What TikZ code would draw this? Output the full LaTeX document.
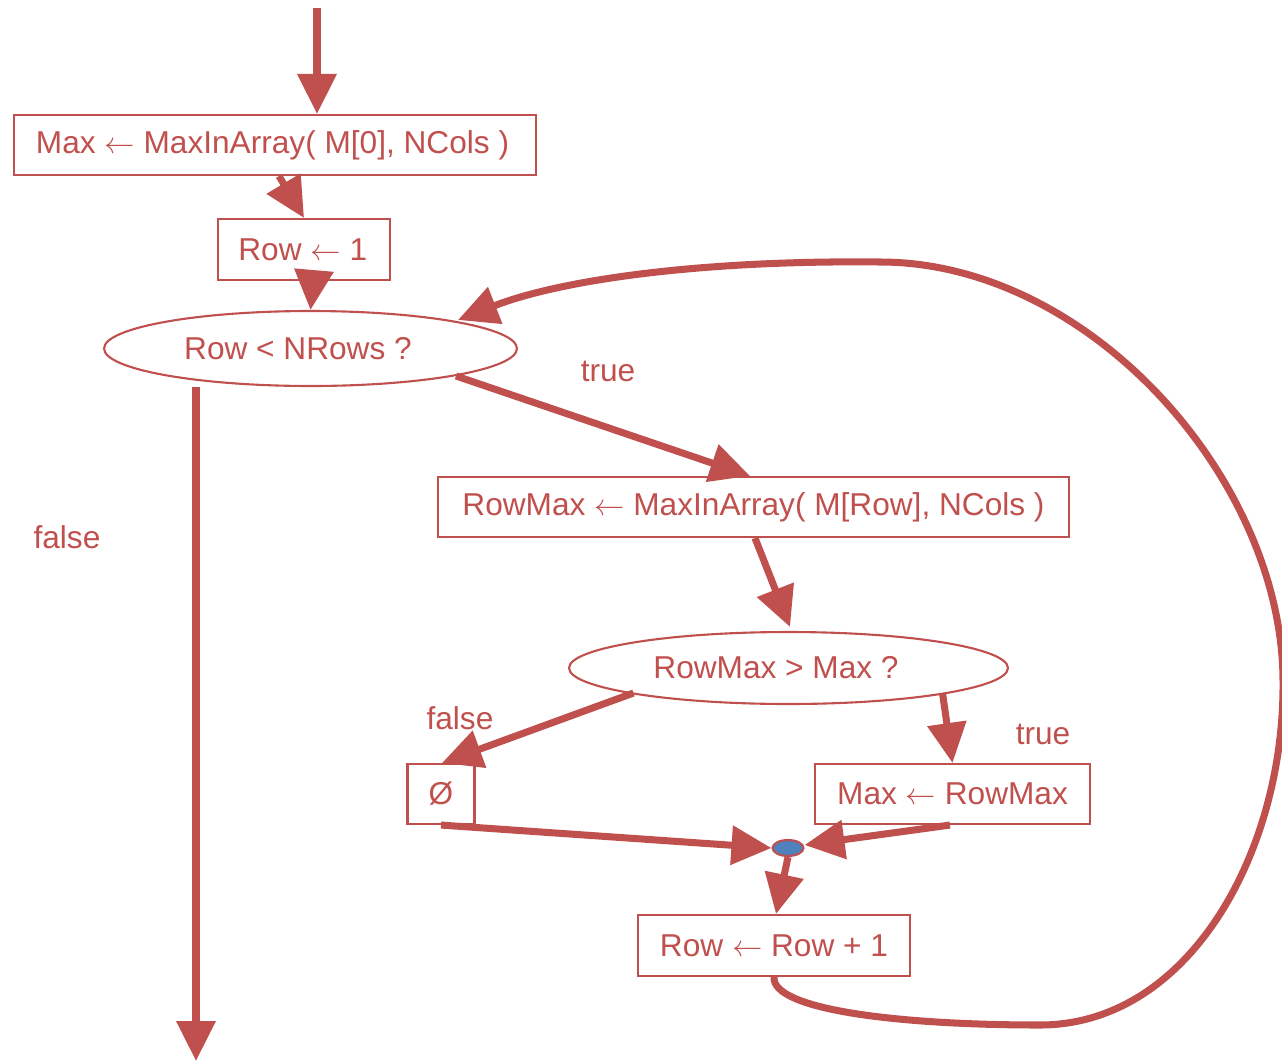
\documentclass[tikz,border=0pt]{standalone}
\usepackage{fontspec}
\setmainfont{Liberation Sans}
\usetikzlibrary{arrows.meta,shapes.geometric}
\definecolor{cred}{HTML}{C0504D}
\definecolor{cblue}{HTML}{4F81BD}
\tikzset{
  box/.style={draw=cred,line width=1.2pt,text=cred,inner sep=0pt,minimum height=1.2cm,font=\fontsize{18}{21}\selectfont},
  oval/.style={ellipse,draw=cred,line width=1.2pt,text=cred,inner sep=0pt,font=\fontsize{18}{21}\selectfont},
  lbl/.style={text=cred,font=\fontsize{18}{21}\selectfont},
  arr/.style={draw=cred,line width=4pt,-{Triangle[length=0.8cm,width=0.76cm]}},
}
\newcommand{\padr}[1]{\hspace*{#1}\mbox{}}
\begin{document}
\begin{tikzpicture}[x=0.02cm,y=-0.02cm]
\useasboundingbox (0,0) rectangle (1282,1062);
% nodes
\node[box,minimum width=10.44cm] (b1) at (275,145) {Max $\leftarrow$ MaxInArray( M[0], NCols )\padr{0.1cm}};
\node[box,minimum width=3.44cm,minimum height=1.22cm] (b2) at (304,249.5) {Row $\leftarrow$ 1\padr{0.05cm}};
\node[oval,minimum width=8.26cm,minimum height=1.5cm] (e1) at (310.5,348.5) {Row < NRows ?\padr{0.5cm}};
\node[box,minimum width=12.62cm] (b3) at (753.5,507) {RowMax $\leftarrow$ MaxInArray( M[Row], NCols )};
\node[oval,minimum width=8.78cm,minimum height=1.44cm] (e2) at (788.5,668) {RowMax > Max ?\padr{0.5cm}};
\node[box,minimum width=1.34cm] (b4) at (441,794) {Ø};
\node[box,minimum width=5.5cm] (b5) at (952.5,794) {Max $\leftarrow$ RowMax};
\node[ellipse,draw=cred,fill=cblue,line width=1.2pt,inner sep=0pt,minimum width=0.62cm,minimum height=0.32cm] (blob) at (788,848) {};
\node[box,minimum width=5.44cm,minimum height=1.22cm] (b6) at (774,945.5) {Row $\leftarrow$ Row + 1};
% labels
\node[lbl] (lf1) at (67,537) {false};
\node[lbl] (lt1) at (608,371) {true};
\node[lbl] (lf2) at (460,718) {false};
\node[lbl] (lt2) at (1043,734) {true};
% free ends
\coordinate (start) at (317,8);
\coordinate (exit) at (196,1061);
% connectors
\draw[arr] (start) -- (start |- b1.north);
\draw[arr] ([shift={(4,0)}]b1.south) -- (b2.north);
\draw[arr] ([shift={(9,0)}]b2.south) -- (e1.north);
\draw[arr] ([shift={(-114.5,0)}]e1.south) -- (exit);
\draw[arr] ([shift={(145.5,27.5)}]e1.center) -- ([shift={(-3.5,0)}]b3.north);
\draw[arr] ([shift={(1.5,0)}]b3.south) -- ([shift={(1.5,-4)}]e2.north);
\draw[arr] ([shift={(-155,25)}]e2.center) -- ([shift={(1,0)}]b4.north);
\draw[arr] ([shift={(154,25)}]e2.center) -- (b5.north);
\draw[arr] (b4.south) -- (blob.west);
\draw[arr] ([shift={(-2.5,0)}]b5.south) -- ([shift={(0,-3)}]blob.east);
\draw[arr] (blob.south) -- ([shift={(2,0)}]b6.north);
\draw[arr] (b6.south) .. controls (772,1010) and (900,1025) .. (1040,1025)
  .. controls (1190,1025) and (1285,850) .. (1283,680)
  .. controls (1282,480) and (1090,262) .. (880,262)
  .. controls (700,260) and (560,280) .. ([shift={(147.5,-28.5)}]e1.center);
\end{tikzpicture}
\end{document}
